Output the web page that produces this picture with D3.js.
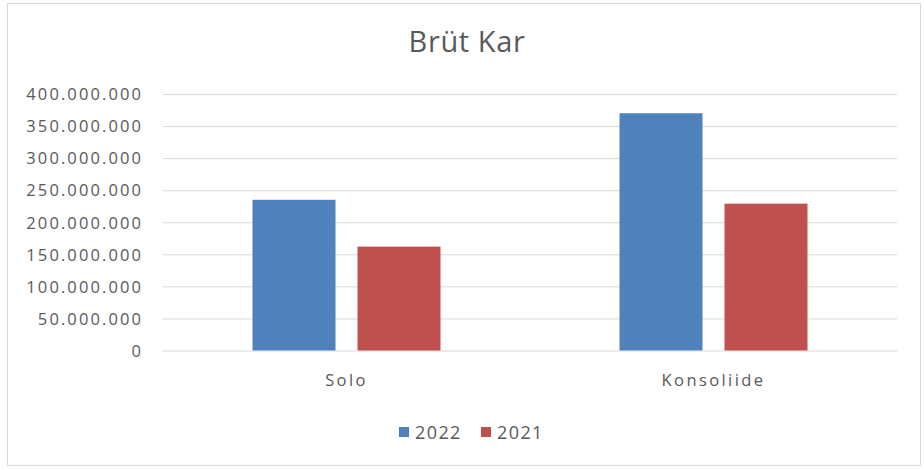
<!DOCTYPE html>
<html>
<head>
<meta charset="utf-8">
<script src="https://cdn.jsdelivr.net/npm/d3@7/dist/d3.min.js"></script>
<style>
  html, body { margin: 0; padding: 0; background: #fff; }
  svg { display: block; }
  text { font-family: "Open Sans", "DejaVu Sans", sans-serif; fill: #595959; }
</style>
</head>
<body>
<svg id="chart" width="924" height="470"></svg>
<script>
const title = "Brüt Kar";
const categories = ["Solo", "Konsoliide"];
const seriesNames = ["2022", "2021"];
const values2022 = [235000000, 370000000];
const values2021 = [162000000, 229000000];
const yTicks = [0, 50000000, 100000000, 150000000, 200000000, 250000000, 300000000, 350000000, 400000000];
const colors = ["#4f81bd", "#c0504d"];

const series = [values2022, values2021];
const svg = d3.select("#chart");

// outer chart frame
svg.append("rect")
  .attr("x", 7.5).attr("y", 3.5).attr("width", 913).attr("height", 462)
  .attr("fill", "#fff").attr("stroke", "#d9d9d9").attr("stroke-width", 1);

const plot = { left: 163, right: 897, top: 94, bottom: 350.5 };

const y = d3.scaleLinear().domain([0, 400000000]).range([plot.bottom, plot.top]);
const x0 = d3.scaleBand().domain(categories).range([plot.left, plot.right]);
const groupW = 188, barGap = 22;
const x1 = d3.scaleBand().domain(seriesNames).range([0, groupW]).paddingInner(barGap / ((groupW - barGap) / 2 + barGap)).paddingOuter(0);

const fmt = v => d3.format(",")(v).replace(/,/g, ".");

// gridlines + y labels
const yAxis = d3.axisLeft(y).tickValues(yTicks).tickFormat(fmt)
  .tickSize(-(plot.right - plot.left)).tickPadding(20);
const gy = svg.append("g").attr("transform", `translate(${plot.left},0)`).call(yAxis);
gy.select(".domain").remove();
gy.selectAll(".tick line").attr("stroke", "#d9d9d9").attr("stroke-width", 1);
gy.selectAll(".tick text")
  .attr("fill", "#595959")
  .style("font-size", "16.5px")
  .style("letter-spacing", "2.1px")
  .attr("dy", "0.35em");

// bars, grouped by category
const groups = svg.append("g").selectAll("g").data(categories).join("g")
  .attr("transform", c => `translate(${x0(c) + x0.bandwidth() / 2 - groupW / 2},0)`);
groups.selectAll("rect")
  .data((c, ci) => series.map((vals, si) => ({ key: seriesNames[si], v: vals[ci], color: colors[si] })))
  .join("rect")
  .attr("x", d => x1(d.key))
  .attr("y", d => y(d.v))
  .attr("width", x1.bandwidth())
  .attr("height", d => y(0) - y(d.v))
  .attr("fill", d => d.color);

// category axis labels
const xAxis = d3.axisBottom(x0).tickSize(0).tickPadding(24);
const gx = svg.append("g").attr("transform", `translate(0,${plot.bottom})`).call(xAxis);
gx.select(".domain").remove();
gx.selectAll(".tick text")
  .attr("fill", "#595959")
  .style("font-size", "16.5px")
  .style("letter-spacing", "2.4px");

// title
svg.append("text")
  .attr("x", 467).attr("y", 52)
  .attr("text-anchor", "middle")
  .style("font-size", "29px")
  .style("letter-spacing", "0.6px")
  .text(title);

// legend
const legendItems = [{ x: 399, name: seriesNames[0], c: colors[0] }, { x: 481, name: seriesNames[1], c: colors[1] }];
const lg = svg.append("g");
legendItems.forEach(d => {
  lg.append("rect").attr("x", d.x).attr("y", 427).attr("width", 10).attr("height", 10).attr("fill", d.c);
  lg.append("text").attr("x", d.x + 16).attr("y", 439)
    .style("font-size", "18px").style("letter-spacing", "1.4px").text(d.name);
});
</script>
</body>
</html>
